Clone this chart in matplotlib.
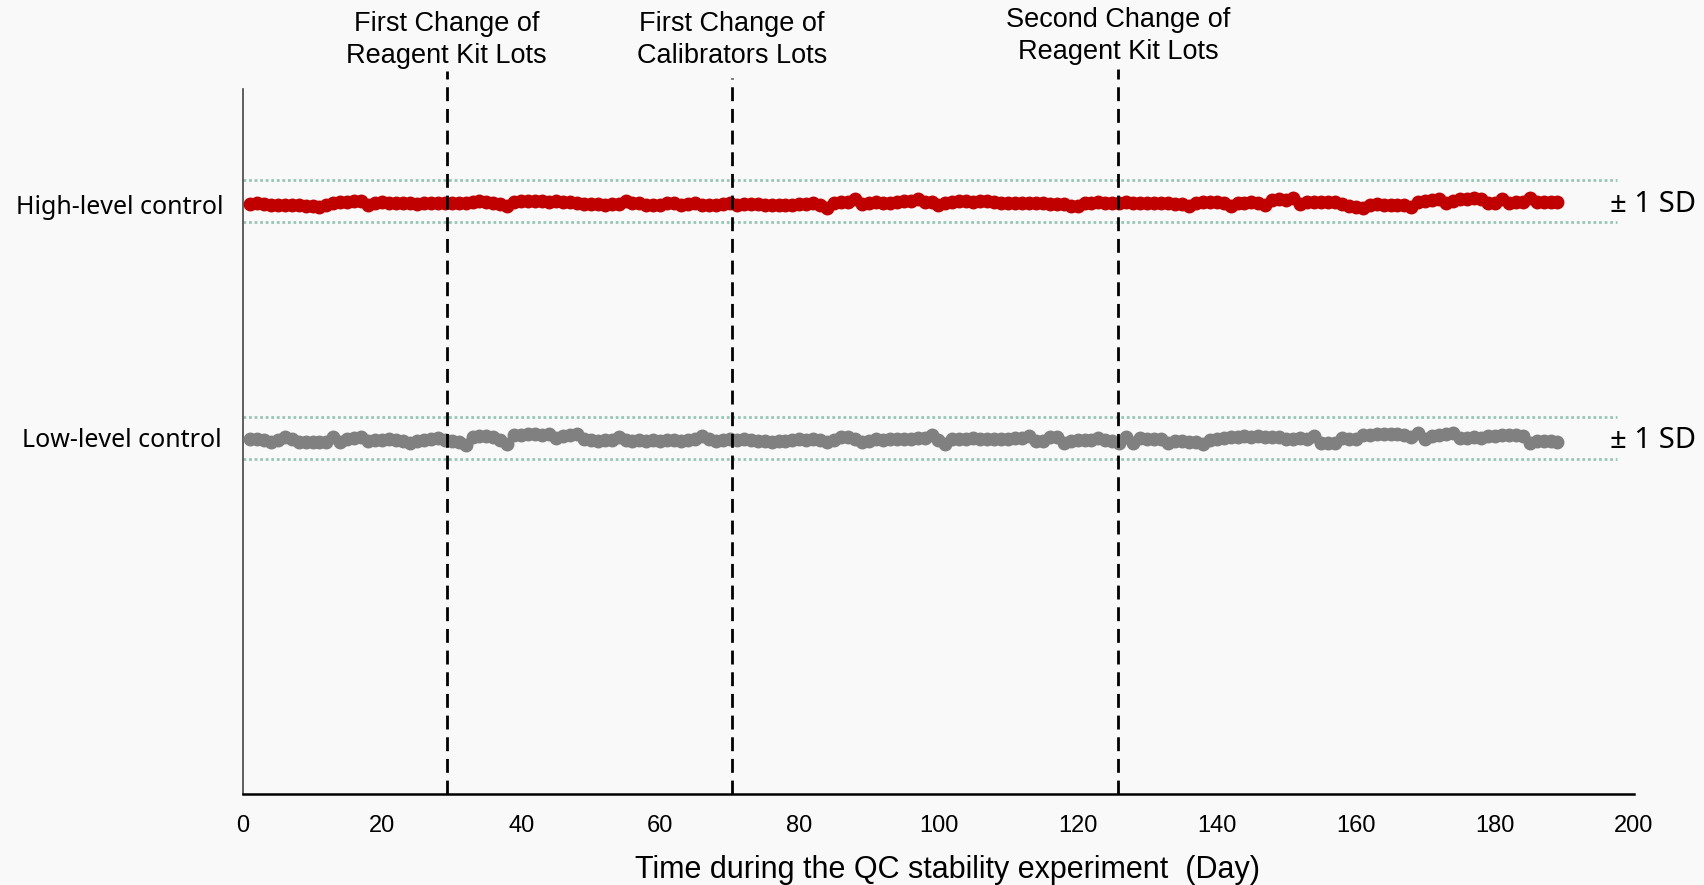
import numpy as np
import matplotlib
matplotlib.use("Agg")
import matplotlib.pyplot as plt

# Chart values (y axis has no scale in the original, values are read relative to the +/-1 SD bands)
high_values = [
    83.64, 83.78, 83.73, 83.50, 83.59, 83.54, 83.50, 83.54, 83.45, 83.40,
    83.31, 83.59, 83.83, 83.92, 84.02, 84.11, 84.16, 83.50, 83.88, 83.92,
    83.83, 83.88, 83.78, 83.83, 83.73, 83.78, 83.83, 83.78, 83.78, 83.83,
    83.78, 83.88, 83.92, 84.16, 83.97, 83.83, 83.69, 83.40, 84.02, 84.11,
    84.16, 84.11, 84.07, 84.02, 84.11, 84.02, 83.97, 83.78, 83.69, 83.64,
    83.69, 83.59, 83.64, 83.69, 84.11, 83.78, 83.78, 83.59, 83.50, 83.59,
    83.78, 83.88, 83.59, 83.64, 83.78, 83.59, 83.54, 83.59, 83.64, 83.78,
    83.59, 83.64, 83.73, 83.64, 83.54, 83.59, 83.50, 83.54, 83.59, 83.64,
    83.69, 83.78, 83.54, 83.07, 83.83, 83.92, 83.97, 84.39, 83.64, 83.88,
    83.92, 83.78, 83.83, 84.02, 84.11, 84.16, 84.39, 83.97, 83.92, 83.50,
    83.78, 84.02, 84.11, 84.07, 84.02, 84.11, 84.07, 83.97, 83.83, 83.88,
    83.83, 83.88, 83.78, 83.83, 83.78, 83.73, 83.64, 83.69, 83.45, 83.40,
    83.78, 83.88, 83.92, 83.83, 83.88, 83.88, 83.92, 83.83, 83.88, 83.83,
    83.88, 83.78, 83.83, 83.73, 83.69, 83.45, 83.78, 83.92, 83.97, 84.02,
    83.78, 83.40, 83.78, 83.88, 83.92, 83.88, 83.54, 84.25, 84.35, 84.30,
    84.49, 83.64, 83.92, 83.97, 84.02, 83.97, 83.92, 83.64, 83.45, 83.31,
    83.16, 83.59, 83.69, 83.54, 83.59, 83.50, 83.54, 83.31, 84.02, 84.16,
    84.25, 84.44, 83.78, 84.07, 84.35, 84.44, 84.49, 84.35, 83.88, 83.78,
    84.44, 83.88, 83.92, 83.97, 84.49, 84.02, 83.92, 83.97, 83.92,
]
low_values = [
    50.28, 50.28, 50.24, 49.95, 50.19, 50.57, 50.28, 49.95, 49.91, 49.86,
    49.95, 49.91, 50.66, 49.86, 50.28, 50.43, 50.66, 50.10, 50.19, 50.24,
    50.28, 50.19, 50.10, 49.81, 50.10, 50.19, 50.28, 50.43, 50.19, 50.05,
    49.95, 49.48, 50.66, 50.76, 50.71, 50.66, 50.19, 49.62, 50.90, 50.95,
    51.04, 50.99, 50.95, 51.04, 50.43, 50.76, 50.85, 51.04, 50.28, 50.19,
    50.10, 50.19, 50.24, 50.57, 50.19, 50.10, 50.14, 50.10, 50.19, 50.10,
    50.14, 50.19, 50.10, 50.19, 50.28, 50.76, 50.28, 50.10, 50.19, 50.28,
    50.19, 50.28, 50.14, 50.10, 50.05, 49.95, 50.00, 50.10, 50.19, 50.28,
    50.19, 50.28, 50.14, 49.86, 50.19, 50.66, 50.62, 50.28, 49.86, 50.10,
    50.28, 50.24, 50.28, 50.33, 50.38, 50.28, 50.43, 50.47, 50.90, 50.19,
    49.58, 50.28, 50.33, 50.28, 50.43, 50.38, 50.28, 50.33, 50.38, 50.28,
    50.43, 50.47, 50.76, 50.10, 50.10, 50.66, 50.66, 49.72, 50.10, 50.14,
    50.19, 50.24, 50.43, 50.19, 50.10, 49.72, 50.66, 49.81, 50.43, 50.38,
    50.28, 50.33, 49.72, 50.10, 50.00, 49.95, 49.95, 49.58, 50.19, 50.38,
    50.47, 50.57, 50.66, 50.76, 50.66, 50.71, 50.66, 50.62, 50.57, 50.28,
    50.38, 50.43, 50.38, 50.76, 49.72, 49.81, 49.81, 50.43, 50.38, 50.28,
    50.90, 50.95, 50.99, 51.04, 50.99, 51.04, 50.95, 50.66, 51.14, 50.28,
    50.76, 50.90, 51.04, 51.14, 50.43, 50.47, 50.57, 50.52, 50.76, 50.81,
    50.85, 50.90, 50.85, 50.76, 49.72, 50.10, 50.10, 50.05, 49.95,
]
days = list(range(1, len(high_values) + 1))

high_mean, low_mean = 84.1, 50.5
sd_band = 2.95
sd_end_day = 197.6

change_days = [29.3, 70.3, 125.8]
change_labels = [
    "First Change of\nReagent Kit Lots",
    "First Change of\nCalibrators Lots",
    "Second Change of\nReagent Kit Lots",
]
x_ticks = list(range(0, 201, 20))

BG = "#f9f9f9"
RED = "#c00000"
GREY = "#808080"
SD_COLOR = "#98c6b6"

fig = plt.figure(figsize=(17.04, 8.85), dpi=100, facecolor=BG)
ax = fig.add_axes([0.1426, 0.1032, 0.8163, 0.7962])
ax.set_facecolor(BG)
ax.set_xlim(0, 200)
ax.set_ylim(0, 100)

# +/- 1 SD bands
for m in (high_mean, low_mean):
    ax.hlines([m + sd_band, m - sd_band], 0, sd_end_day, colors=SD_COLOR,
              linestyles=(0, (1, 1)), linewidth=2.0, zorder=1)

# the two control series
ax.plot(days, high_values, color=RED, marker="o", markersize=9,
        linewidth=3.5, zorder=3)
ax.plot(days, low_values, color=GREY, marker="o", markersize=9,
        linewidth=3.5, zorder=3)

# lot changes
tops = [102.6, 101.6, 102.8]
label_y = [107.0, 107.0, 107.5]
for d, lab, top, ty in zip(change_days, change_labels, tops, label_y):
    ax.plot([d, d], [0, top], color="black", linewidth=2.0,
            dashes=(5, 2.8), clip_on=False, zorder=4)
    ax.text(d, ty, lab, ha="center", va="center", fontsize=19.5,
            family="Liberation Sans", linespacing=1.3, clip_on=False)

for s in ("top", "right"):
    ax.spines[s].set_visible(False)
ax.spines["left"].set_color("#444444")
ax.spines["left"].set_linewidth(1.2)
ax.spines["bottom"].set_color("black")
ax.spines["bottom"].set_linewidth(1.8)

ax.set_yticks([])
ax.set_xticks(x_ticks)
ax.set_xticklabels([str(t) for t in x_ticks], family="Liberation Sans",
                   fontsize=17)
ax.tick_params(axis="x", length=0, pad=15)

fig.text(947 / 1704, 1 - 870 / 885, "Time during the QC stability experiment  (Day)",
         ha="center", va="center", fontsize=22, family="Liberation Sans")

fig.text(223 / 1704, 1 - 207 / 885, "High-level control", ha="right",
         va="center", fontsize=18, family="Noto Sans")
fig.text(222 / 1704, 1 - 440 / 885, "Low-level control", ha="right",
         va="center", fontsize=18, family="Noto Sans")
fig.text(1610 / 1704, 1 - 205 / 885, "± 1 SD", ha="left", va="center",
         fontsize=21, family="Noto Sans")
fig.text(1610 / 1704, 1 - 441 / 885, "± 1 SD", ha="left", va="center",
         fontsize=21, family="Noto Sans")

fig.savefig("out.png", dpi=100, facecolor=BG)
